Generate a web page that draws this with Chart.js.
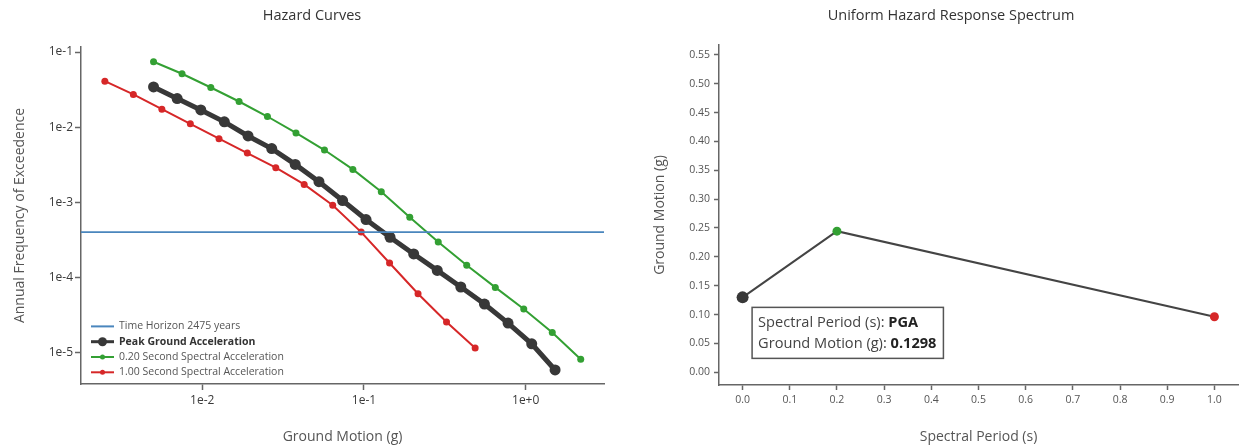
<!DOCTYPE html>
<html>
<head>
<meta charset="utf-8">
<script src="https://cdn.jsdelivr.net/npm/chart.js@4.4.1/dist/chart.umd.min.js"></script>
<style>
  html, body { margin: 0; padding: 0; background: #fff; }
  #wrap { display: flex; width: 1245px; height: 448px; }
  canvas { display: block; }
</style>
</head>
<body>
<div id="wrap">
  <canvas id="hazard" width="622" height="448"></canvas>
  <canvas id="uhrs" width="623" height="448"></canvas>
</div>
<script>
// hazard curves: ground motion (g) vs annual frequency of exceedence
const pgaX = [0.0050, 0.0070, 0.0098, 0.0137, 0.0192, 0.0269, 0.0376, 0.0527, 0.0738, 0.103, 0.145, 0.203, 0.284, 0.397, 0.556, 0.778, 1.09, 1.52];
const pgaY = [0.0344, 0.0241, 0.0170, 0.0118, 0.00766, 0.00520, 0.00321, 0.00189, 0.00106, 5.93e-4, 3.45e-4, 2.07e-4, 1.25e-4, 7.52e-5, 4.46e-5, 2.49e-5, 1.32e-5, 5.93e-6];
const sa02X = [0.0050, 0.0075, 0.0113, 0.0169, 0.0253, 0.0380, 0.0570, 0.0854, 0.128, 0.192, 0.288, 0.432, 0.649, 0.973, 1.46, 2.19];
const sa02Y = [0.0742, 0.0514, 0.0338, 0.0220, 0.0139, 0.00840, 0.00498, 0.00275, 0.00139, 6.37e-4, 2.99e-4, 1.46e-4, 7.43e-5, 3.83e-5, 1.87e-5, 8.24e-6];
const sa10X = [0.0025, 0.00375, 0.00563, 0.00844, 0.0127, 0.0190, 0.0285, 0.0427, 0.0641, 0.0961, 0.144, 0.216, 0.324, 0.487];
const sa10Y = [0.0410, 0.0273, 0.0174, 0.0111, 0.00706, 0.00454, 0.00290, 0.00174, 9.18e-4, 4.04e-4, 1.57e-4, 6.12e-5, 2.57e-5, 1.16e-5];
const timeHorizon = 2475; // years

const hazardXTicks = [0.01, 0.1, 1];
const hazardXLabels = ['1e-2', '1e-1', '1e+0'];
const hazardYTicks = [1e-5, 1e-4, 1e-3, 1e-2, 1e-1];
const hazardYLabels = ['1e-5', '1e-4', '1e-3', '1e-2', '1e-1'];
const hazardXRange = [1.78e-3, 3.05];
const hazardYRange = [3.86e-6, 0.1167];

// uniform hazard response spectrum
const periods = [0.0, 0.2, 1.0];
const periodNames = ['PGA', '0.20', '1.00'];
const uhrsValues = [0.1298, 0.2445, 0.0962];

const uhrsXTicks = [0.0, 0.1, 0.2, 0.3, 0.4, 0.5, 0.6, 0.7, 0.8, 0.9, 1.0];
const uhrsXLabels = ['0.0', '0.1', '0.2', '0.3', '0.4', '0.5', '0.6', '0.7', '0.8', '0.9', '1.0'];
const uhrsYTicks = [0, 0.05, 0.10, 0.15, 0.20, 0.25, 0.30, 0.35, 0.40, 0.45, 0.50, 0.55];
const uhrsYLabels = ['0.00', '0.05', '0.10', '0.15', '0.20', '0.25', '0.30', '0.35', '0.40', '0.45', '0.50', '0.55'];
const uhrsXRange = [-0.05, 1.05];
const uhrsYRange = [-0.022, 0.567];

const BLACK = '#383838', GREEN = '#33a033', RED = '#d62728', BLUE = '#4a86bd';
const AXIS = '#666', TICKTXT = '#555';
const FONT = "'Open Sans', 'Noto Sans', sans-serif";

Chart.defaults.font.family = FONT;
Chart.defaults.color = TICKTXT;

const pts = (xs, ys) => xs.map((x, i) => ({ x: x, y: ys[i] }));

function axisStyle(tickLen) {
  return {
    grid: { drawOnChartArea: false, drawTicks: true, tickLength: tickLen, tickColor: AXIS, tickWidth: 1.5 },
    border: { display: true, color: AXIS, width: 1.5 }
  };
}

// legend drawn inside the plot, bottom-left
const insideLegend = {
  id: 'insideLegend',
  afterDatasetsDraw(chart) {
    const ctx = chart.ctx;
    const area = chart.chartArea;
    const sets = chart.data.datasets;
    ctx.save();
    sets.forEach((ds, i) => {
      const y = area.bottom - 11.7 - 15.3 * (sets.length - 1 - i);
      const x0 = area.left + 10, x1 = area.left + 33;
      ctx.strokeStyle = ds.borderColor;
      ctx.lineWidth = ds.legendLine;
      ctx.beginPath(); ctx.moveTo(x0, y); ctx.lineTo(x1, y); ctx.stroke();
      if (ds.pointRadius > 0) {
        ctx.fillStyle = ds.borderColor;
        ctx.beginPath(); ctx.arc((x0 + x1) / 2, y, ds.pointRadius - 1, 0, Math.PI * 2); ctx.fill();
      }
      ctx.font = (ds.bold ? 'bold ' : '') + '10.5px ' + FONT;
      ctx.fillStyle = ds.bold ? '#333' : '#555';
      ctx.textBaseline = 'middle';
      ctx.fillText(ds.label, x1 + 5, y);
    });
    ctx.restore();
  }
};

new Chart(document.getElementById('hazard'), {
  type: 'scatter',
  data: {
    datasets: [
      { label: 'Time Horizon ' + timeHorizon + ' years', data: pts(hazardXRange, [1 / timeHorizon, 1 / timeHorizon]),
        showLine: true, borderColor: BLUE, borderWidth: 1.8, pointRadius: 0, legendLine: 2 },
      { label: 'Peak Ground Acceleration', data: pts(pgaX, pgaY), showLine: true, bold: true,
        borderColor: BLACK, backgroundColor: BLACK, borderWidth: 5, pointRadius: 5.5, pointBorderWidth: 0, legendLine: 3 },
      { label: '0.20 Second Spectral Acceleration', data: pts(sa02X, sa02Y), showLine: true,
        borderColor: GREEN, backgroundColor: GREEN, borderWidth: 2, pointRadius: 3.5, pointBorderWidth: 0, legendLine: 2 },
      { label: '1.00 Second Spectral Acceleration', data: pts(sa10X, sa10Y), showLine: true,
        borderColor: RED, backgroundColor: RED, borderWidth: 2, pointRadius: 3.5, pointBorderWidth: 0, legendLine: 2 }
    ]
  },
  options: {
    responsive: false,
    animation: false,
    events: [],
    layout: { padding: { top: 0, right: 18, bottom: 0, left: 20 } },
    plugins: {
      legend: { display: false },
      tooltip: { enabled: false },
      title: { display: true, text: 'Hazard Curves', color: '#333', font: { size: 14.5, weight: 'normal' }, padding: { top: 7.5, bottom: 22.1 } }
    },
    scales: {
      x: Object.assign({
        type: 'logarithmic', min: hazardXRange[0], max: hazardXRange[1],
        afterFit: s => { s.height = 64; },
        afterBuildTicks: s => { s.ticks = hazardXTicks.map(v => ({ value: v })); },
        ticks: { autoSkip: false, maxRotation: 0, padding: 3, color: '#3a3a3a', font: { size: 12 }, callback: (v, i) => hazardXLabels[i] },
        title: { display: true, text: 'Ground Motion (g)', color: '#555', font: { size: 14 }, padding: { top: 0, bottom: 2.6 } }
      }, axisStyle(6)),
      y: Object.assign({
        type: 'logarithmic', min: hazardYRange[0], max: hazardYRange[1],
        afterFit: s => { s.width = 61; },
        afterBuildTicks: s => { s.ticks = hazardYTicks.map(v => ({ value: v })); },
        ticks: { autoSkip: false, padding: 2, color: '#3a3a3a', font: { size: 12 }, callback: (v, i) => hazardYLabels[i] },
        title: { display: true, text: 'Annual Frequency of Exceedence', color: '#555', font: { size: 14 }, padding: { top: -8.4, bottom: 0 } }
      }, axisStyle(6))
    }
  },
  plugins: [insideLegend]
});

// fixed hover box next to the PGA point
const pinnedTip = {
  id: 'pinnedTip',
  afterDatasetsDraw(chart) {
    const ctx = chart.ctx;
    const p = chart.getDatasetMeta(0).data[0];
    const rows = [
      ['Spectral Period (s): ', periodNames[0]],
      ['Ground Motion (g): ', uhrsValues[0].toFixed(4)]
    ];
    ctx.save();
    const reg = '14.6px ' + FONT, bld = 'bold 14.6px ' + FONT;
    let w = 0;
    rows.forEach(r => {
      ctx.font = reg; const a = ctx.measureText(r[0]).width;
      ctx.font = bld; const b = ctx.measureText(r[1]).width;
      w = Math.max(w, a + b);
    });
    const bx = p.x + 9.5, by = p.y + 10, bw = w + 13, bh = 51;
    ctx.fillStyle = '#fff';
    ctx.fillRect(bx, by, bw, bh);
    ctx.strokeStyle = '#555';
    ctx.lineWidth = 1.5;
    ctx.strokeRect(bx, by, bw, bh);
    ctx.textBaseline = 'middle';
    rows.forEach((r, i) => {
      const y = by + 15 + i * 21;
      ctx.font = reg; ctx.fillStyle = '#444';
      ctx.fillText(r[0], bx + 6, y);
      const a = ctx.measureText(r[0]).width;
      ctx.font = bld; ctx.fillStyle = '#222';
      ctx.fillText(r[1], bx + 6 + a, y);
    });
    ctx.restore();
  }
};

new Chart(document.getElementById('uhrs'), {
  type: 'scatter',
  data: {
    datasets: [{
      label: 'UHRS',
      data: pts(periods, uhrsValues),
      showLine: true,
      borderColor: '#444',
      borderWidth: 2,
      pointRadius: [6, 4.5, 4.5],
      pointBackgroundColor: [BLACK, GREEN, RED],
      pointBorderWidth: 0
    }]
  },
  options: {
    responsive: false,
    animation: false,
    events: [],
    layout: { padding: { top: 0, right: 7, bottom: 0, left: 42 } },
    plugins: {
      legend: { display: false },
      tooltip: { enabled: false },
      title: { display: true, text: 'Uniform Hazard Response Spectrum', color: '#333', font: { size: 14.5, weight: 'normal' }, padding: { top: 7.5, bottom: 20.1 } }
    },
    scales: {
      x: Object.assign({
        type: 'linear', min: uhrsXRange[0], max: uhrsXRange[1],
        afterFit: s => { s.height = 63; },
        afterBuildTicks: s => { s.ticks = uhrsXTicks.map(v => ({ value: v })); },
        ticks: { autoSkip: false, maxRotation: 0, padding: 4, color: TICKTXT, font: { size: 10.5 }, callback: (v, i) => uhrsXLabels[i] },
        title: { display: true, text: 'Spectral Period (s)', color: '#555', font: { size: 14 }, padding: { top: 0, bottom: 2.6 } }
      }, axisStyle(5)),
      y: Object.assign({
        type: 'linear', min: uhrsYRange[0], max: uhrsYRange[1],
        afterFit: s => { s.width = 55; },
        afterBuildTicks: s => { s.ticks = uhrsYTicks.map(v => ({ value: v })); },
        ticks: { autoSkip: false, padding: 4, color: TICKTXT, font: { size: 10.5 }, callback: (v, i) => uhrsYLabels[i] },
        title: { display: true, text: 'Ground Motion (g)', color: '#555', font: { size: 14 }, padding: { top: -12.4, bottom: 0 } }
      }, axisStyle(5))
    }
  },
  plugins: [pinnedTip]
});
</script>
</body>
</html>
